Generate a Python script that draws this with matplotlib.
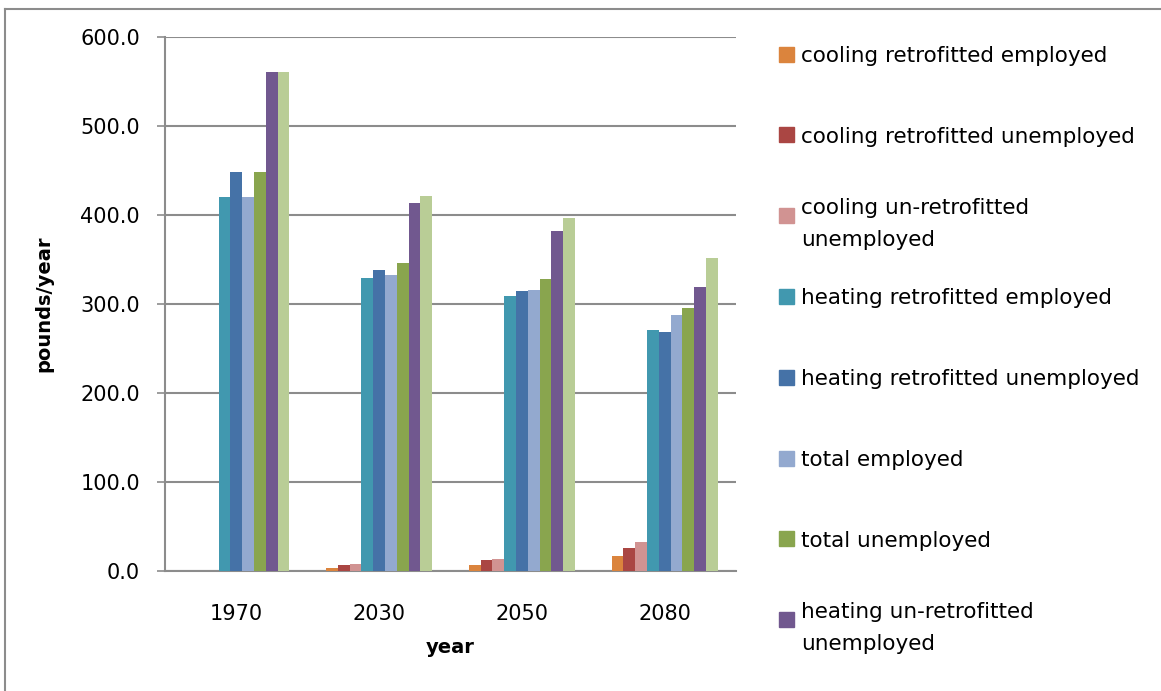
import matplotlib
matplotlib.use('Agg')
import matplotlib.pyplot as plt
import numpy as np
from matplotlib.lines import Line2D
from matplotlib.patches import Rectangle

# data
years = ['1970', '2030', '2050', '2080']
cooling_ret_emp = [0.0, 3.6, 6.4, 16.5]
cooling_ret_unemp = [0.0, 7.2, 12.4, 26.2]
cooling_unret_unemp = [0.0, 8.0, 13.9, 32.2]
heating_ret_emp = [420.4, 328.9, 308.5, 270.3]
heating_ret_unemp = [448.4, 338.5, 314.9, 268.8]
total_emp = [420.4, 332.1, 316.0, 287.5]
total_unemp = [448.4, 346.3, 328.0, 295.8]
heating_unret_unemp = [560.4, 413.6, 382.0, 319.4]
# ninth series, its legend entry is cut off in the original
total_unret_unemp = [560.4, 421.2, 396.3, 352.0]

series = [cooling_ret_emp, cooling_ret_unemp, cooling_unret_unemp,
          heating_ret_emp, heating_ret_unemp, total_emp, total_unemp,
          heating_unret_unemp, total_unret_unemp]
labels = ['cooling retrofitted employed',
          'cooling retrofitted unemployed',
          'cooling un-retrofitted\nunemployed',
          'heating retrofitted employed',
          'heating retrofitted unemployed',
          'total employed',
          'total unemployed',
          'heating un-retrofitted\nunemployed']
colors = ['#DB843D', '#AA4643', '#D19392', '#4198AF', '#4572A7',
          '#93A9CF', '#89A54E', '#71588F', '#B9CD96']

W, H = 1161, 691
fig = plt.figure(figsize=(W / 100, H / 100), dpi=100)
ax = fig.add_axes([165 / W, 1 - 571 / H, 571 / W, 534 / H])

grid_color = '#8C8C8C'
x = np.arange(len(years))
width = 0.0827
n = len(series)
for i, vals in enumerate(series):
    offset = (i - (n - 1) / 2) * width
    ax.bar(x + offset, vals, width, color=colors[i], linewidth=0, zorder=3)

ax.set_xlim(-0.5, len(years) - 0.5)
ax.set_ylim(0, 600)
ax.set_yticks(np.arange(0, 601, 100))
ax.set_yticklabels(['%.1f' % v for v in np.arange(0, 601, 100)])
ax.set_xticks(x)
ax.set_xticklabels(years)
ax.yaxis.grid(True, color=grid_color, linewidth=1.5, zorder=0)
ax.set_axisbelow(True)
for s in ['top', 'right']:
    ax.spines[s].set_visible(False)
for s in ['left', 'bottom']:
    ax.spines[s].set_color(grid_color)
    ax.spines[s].set_linewidth(1.5)
ax.tick_params(axis='y', length=6, width=1.2, color=grid_color, pad=12,
               labelsize=15)
ax.tick_params(axis='x', length=0, pad=24, labelsize=15)

ax.set_ylabel('pounds/year', fontsize=14, fontweight='bold')
ax.yaxis.set_label_coords(-0.195, 0.5)
ax.set_xlabel('year', fontsize=14, fontweight='bold')
ax.xaxis.set_label_coords(0.499, -0.125)

# legend laid out like the Excel one: fixed pitch, marker on first line
for i, lab in enumerate(labels):
    yc = 54 + i * 80.8
    fig.add_artist(Rectangle((779 / W, 1 - (yc + 7.5) / H), 15 / W, 15 / H,
                             transform=fig.transFigure, color=colors[i]))
    fig.text(801 / W, 1 - yc / H, lab, fontsize=15.5, va='center_baseline',
             ha='left', linespacing=1.8)

# chart border (top and left visible)
fig.add_artist(Line2D([5 / W, 5 / W], [0, 1 - 9 / H], color=grid_color,
                      linewidth=1.5, transform=fig.transFigure))
fig.add_artist(Line2D([5 / W, 1], [1 - 9 / H, 1 - 9 / H], color=grid_color,
                      linewidth=1.5, transform=fig.transFigure))

fig.savefig('out.png', dpi=100)
